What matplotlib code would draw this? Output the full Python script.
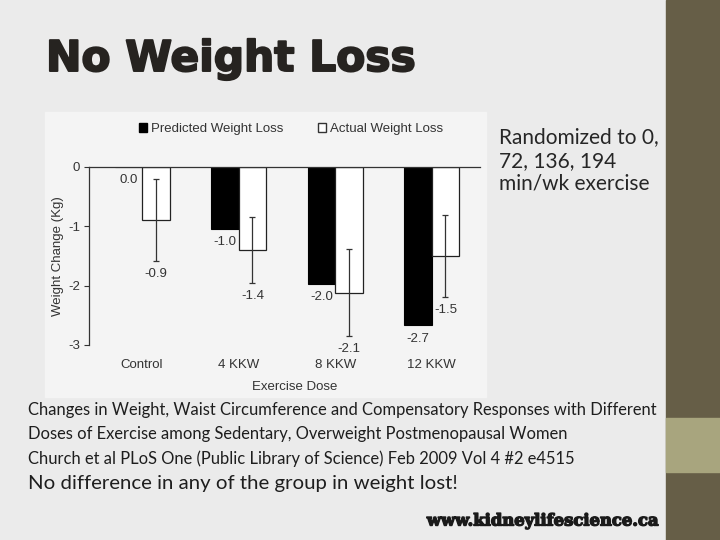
import matplotlib
matplotlib.use("Agg")
import matplotlib.pyplot as plt
import matplotlib.patheffects as pe
from matplotlib.patches import Patch, Rectangle

# data
groups = ['Control', '4 KKW', '8 KKW', '12 KKW']
predicted = [0.0, -1.05, -1.97, -2.67]
actual = [-0.9, -1.40, -2.12, -1.50]
actual_err = [0.69, 0.56, 0.73, 0.69]
predicted_lbl = ['0.0', '-1.0', '-2.0', '-2.7']
actual_lbl = ['-0.9', '-1.4', '-2.1', '-1.5']
yticks = [0, -1, -2, -3]

side_lines = ['Randomized to 0,', '72, 136, 194', 'min/wk exercise']
ref_lines = ['Changes in Weight, Waist Circumference and Compensatory Responses with Different',
             'Doses of Exercise among Sedentary, Overweight Postmenopausal Women',
             'Church et al PLoS One (Public Library of Science) Feb 2009 Vol 4 #2 e4515']
note = 'No difference in any of the group in weight lost!'

fig = plt.figure(figsize=(7.2, 5.4), dpi=100)
fig.patch.set_facecolor('#ebebeb')

# decorative bar on the right of the slide
fig.patches.append(Rectangle((666/720, 0), 54/720, 1, transform=fig.transFigure,
                             color='#665e47', zorder=0))
fig.patches.append(Rectangle((666/720, 1-472/540), 54/720, 54/540, transform=fig.transFigure,
                             color='#a8a57e', zorder=0))
# white-ish background of the pasted chart
fig.patches.append(Rectangle((45/720, 1-397/540), 441/720, 285/540, transform=fig.transFigure,
                             color='#f4f4f4', zorder=0))

fig.text(46/720, 1-71/540, 'No Weight Loss', fontsize=30.5, fontweight='bold',
         family='DejaVu Sans', color='#262320', va='baseline',
         path_effects=[pe.withStroke(linewidth=1.4, foreground='#262320')])

ax = fig.add_axes([89/720, 1-345/540, 391/720, 178.3/540])
ax.set_zorder(3)
ax.set_facecolor('none')
tc = '#333333'
fs = 9.5
w = 0.285
x = list(range(len(groups)))
xp = [i - w/2 for i in x]
xa = [i + w/2 for i in x]
ax.bar(xp, predicted, width=w, color='black', edgecolor='black', linewidth=0.8)
ax.bar(xa, actual, width=w, color='white', edgecolor='#222222', linewidth=0.9)
ax.errorbar(xa, actual, yerr=actual_err, fmt='none', ecolor='#333333',
            elinewidth=0.9, capsize=2, capthick=0.9)

for i in x:
    ax.annotate(predicted_lbl[i], (xp[i], predicted[i]), xytext=(0, -9.5), textcoords='offset points',
                ha='center', va='center', fontsize=fs, color=tc, family='Liberation Sans')
    ax.annotate(actual_lbl[i], (xa[i], actual[i] - actual_err[i]), xytext=(0, -9.5),
                textcoords='offset points', ha='center', va='center', fontsize=fs, color=tc,
                family='Liberation Sans')

ax.set_xlim(-0.55, 3.5)
ax.set_ylim(-3, 0)
ax.set_yticks(yticks)
ax.set_yticklabels([str(v) for v in yticks], family='Liberation Sans')
ax.set_xticks(x)
ax.set_xticklabels(groups, family='Liberation Sans')
ax.tick_params(axis='x', length=0, pad=10, labelsize=fs, colors=tc)
ax.tick_params(axis='y', direction='out', length=3.5, width=0.8, pad=3, labelsize=fs, colors=tc)
for s in ['bottom', 'right']:
    ax.spines[s].set_visible(False)
for s in ['left', 'top']:
    ax.spines[s].set_color('#333333')
    ax.spines[s].set_linewidth(0.9)

ax.set_ylabel('Weight Change (Kg)', fontsize=fs, color=tc, family='Liberation Sans')
ax.yaxis.set_label_coords(-0.064, 0.5)
ax.set_xlabel('Exercise Dose', fontsize=fs, color=tc, family='Liberation Sans')
ax.xaxis.set_label_coords(0.527, -0.2)

handles = [Patch(facecolor='black', edgecolor='black', label='Predicted Weight Loss'),
           Patch(facecolor='white', edgecolor='#333333', label='Actual Weight Loss')]
fig.legend(handles=handles, loc='center', bbox_to_anchor=(291/720, 1-129/540), ncol=2,
           frameon=False, handlelength=0.6, handleheight=0.6, handletextpad=0.3,
           columnspacing=2.6, prop={'family': 'Liberation Sans', 'size': fs}, labelcolor=tc)

for yy, line in zip([143, 167, 190], side_lines):
    fig.text(499/720, 1-yy/540, line, fontsize=15, family='Lato', color='#262626', va='baseline')

for yy, line in zip([410, 434, 459], ref_lines):
    fig.text(28/720, 1-yy/540, line, fontsize=11.9, family='Lato', color='#1e1e1e', va='center')
fig.text(28/720, 1-483/540, note, fontsize=14.7, family='Lato', color='#1e1e1e', va='center')

fig.text(658/720, 1-521/540, 'www.kidneylifescience.ca', fontsize=11.8, fontweight='bold',
         family='DejaVu Serif', color='#1a1a1a', ha='right', va='center',
         path_effects=[pe.withStroke(linewidth=1.0, foreground='#1a1a1a')])

fig.savefig('out.png', dpi=100, facecolor=fig.get_facecolor())
